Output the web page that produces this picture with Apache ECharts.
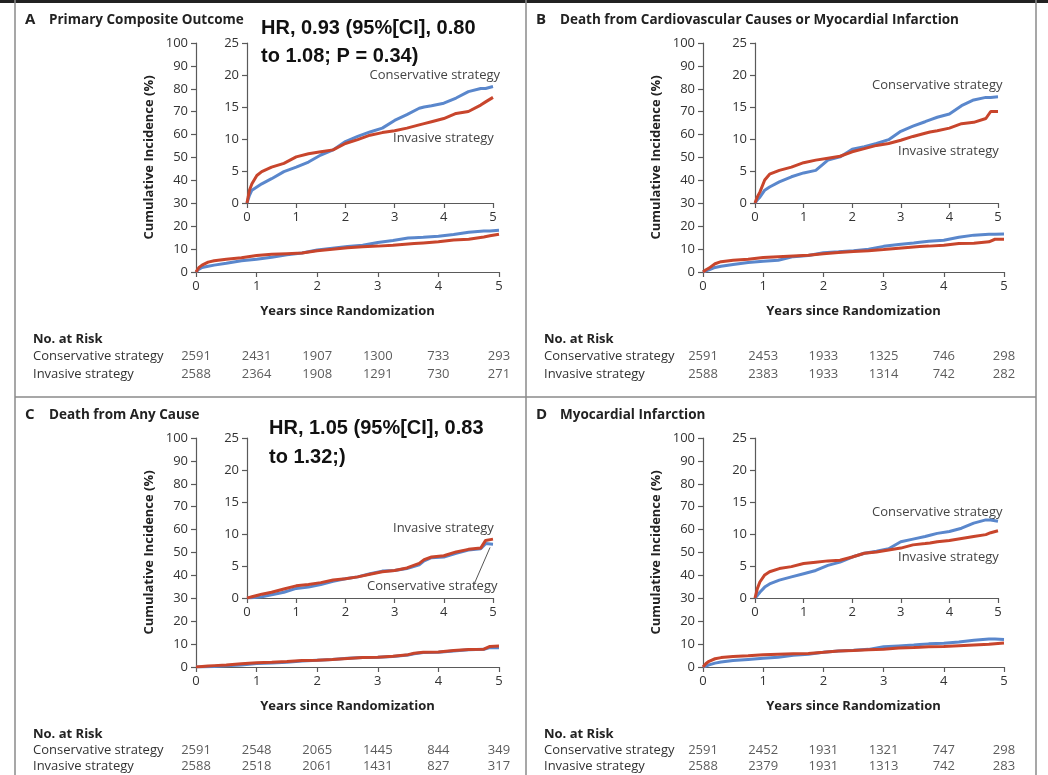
<!DOCTYPE html>
<html>
<head>
<meta charset="utf-8">
<script src="https://cdn.jsdelivr.net/npm/echarts@6/dist/echarts.min.js"></script>
<style>
  html, body { margin: 0; padding: 0; background: #fff; }
  #chart { width: 1048px; height: 775px; }
</style>
</head>
<body>
<div id="chart"></div>
<script>
// Follow-up times (years) at which the cumulative incidence curves are sampled
const years = [0, 0.05, 0.1, 0.2, 0.3, 0.5, 0.75, 1, 1.25, 1.5, 1.75, 2, 2.25, 2.5, 2.75, 3, 3.25, 3.5, 3.6, 3.75, 4, 4.25, 4.5, 4.75, 4.85, 5];

// A: primary composite outcome (%)
const consA = [0, 1.2, 2.0, 2.5, 3.0, 3.8, 4.9, 5.6, 6.4, 7.5, 8.3, 9.6, 10.4, 11.1, 11.7, 12.9, 13.8, 14.8, 15.0, 15.2, 15.6, 16.4, 17.4, 17.9, 17.9, 18.2];
const invA  = [0, 2.0, 3.0, 4.3, 4.9, 5.6, 6.2, 7.2, 7.7, 8.0, 8.3, 9.3, 9.9, 10.6, 11.0, 11.3, 11.7, 12.2, 12.4, 12.7, 13.2, 14.0, 14.3, 15.3, 15.8, 16.5];
// B: death from cardiovascular causes or myocardial infarction (%)
const consB = [0, 0.5, 0.9, 2.0, 2.5, 3.3, 4.1, 4.7, 5.1, 6.7, 7.2, 8.4, 8.8, 9.3, 9.9, 11.2, 12.0, 12.7, 13.0, 13.4, 13.9, 15.2, 16.1, 16.5, 16.5, 16.6];
const invB  = [0, 1.0, 1.7, 3.6, 4.5, 5.1, 5.6, 6.3, 6.7, 7.0, 7.3, 8.0, 8.5, 9.0, 9.3, 9.8, 10.4, 10.9, 11.1, 11.3, 11.7, 12.4, 12.6, 13.2, 14.3, 14.3];
// C: death from any cause (%)
const consC = [0, 0, 0.05, 0.1, 0.2, 0.5, 0.9, 1.5, 1.7, 2.1, 2.6, 3.0, 3.3, 3.8, 4.2, 4.3, 4.6, 5.2, 5.8, 6.3, 6.4, 7.0, 7.5, 7.7, 8.5, 8.4];
const invC  = [0, 0.1, 0.2, 0.4, 0.6, 0.9, 1.4, 1.9, 2.1, 2.4, 2.8, 3.0, 3.3, 3.7, 4.1, 4.3, 4.7, 5.4, 6.0, 6.4, 6.6, 7.2, 7.6, 7.8, 9.0, 9.2];
// D: myocardial infarction (%)
const consD = [0, 0.4, 0.9, 1.7, 2.2, 2.8, 3.3, 3.8, 4.3, 5.1, 5.6, 6.4, 7.0, 7.3, 7.7, 8.8, 9.2, 9.6, 9.8, 10.1, 10.4, 10.9, 11.7, 12.2, 12.2, 12.0];
const invD  = [0, 1.5, 2.5, 3.6, 4.1, 4.6, 4.9, 5.4, 5.6, 5.8, 5.9, 6.4, 7.0, 7.2, 7.5, 7.8, 8.3, 8.5, 8.6, 8.8, 9.0, 9.3, 9.6, 9.9, 10.2, 10.5];

// Numbers at risk at each whole year
const riskYears = [0, 1, 2, 3, 4, 5];
const riskConsA = [2591, 2431, 1907, 1300, 733, 293];
const riskInvA  = [2588, 2364, 1908, 1291, 730, 271];
const riskConsB = [2591, 2453, 1933, 1325, 746, 298];
const riskInvB  = [2588, 2383, 1933, 1314, 742, 282];
const riskConsC = [2591, 2548, 2065, 1445, 844, 349];
const riskInvC  = [2588, 2518, 2061, 1431, 827, 317];
const riskConsD = [2591, 2452, 1931, 1321, 747, 298];
const riskInvD  = [2588, 2379, 1931, 1313, 742, 283];

const rowNames = ['Conservative strategy', 'Invasive strategy'];

const BLUE = '#5a87cc';
const RED = '#c8452c';
const AXIS = '#5a5a5a';
const TXT = '#333';
const FONT = '"Open Sans", "DejaVu Sans", sans-serif';

const panels = [
  { id: 'A', title: 'Primary Composite Outcome', cons: consA, inv: invA, rc: riskConsA, ri: riskInvA, x0: 196, w: 303, ix: 247, iw: 246, y0: 43, rowLabelX: 33 },
  { id: 'B', title: 'Death from Cardiovascular Causes or Myocardial Infarction', cons: consB, inv: invB, rc: riskConsB, ri: riskInvB, x0: 703, w: 301, ix: 755, iw: 243, y0: 43, rowLabelX: 544 },
  { id: 'C', title: 'Death from Any Cause', cons: consC, inv: invC, rc: riskConsC, ri: riskInvC, x0: 196, w: 303, ix: 247, iw: 246, y0: 438, rowLabelX: 33 },
  { id: 'D', title: 'Myocardial Infarction', cons: consD, inv: invD, rc: riskConsD, ri: riskInvD, x0: 703, w: 301, ix: 755, iw: 243, y0: 438, rowLabelX: 544 }
];

const grid = [], xAxis = [], yAxis = [], series = [], graphic = [];

function axisCommon() {
  return {
    axisLine: { show: true, lineStyle: { color: AXIS, width: 1.2 } },
    axisTick: { show: true, length: 5, lineStyle: { color: AXIS, width: 1.2 } },
    splitLine: { show: false },
    axisLabel: { color: TXT, fontFamily: FONT, fontSize: 13, margin: 8 }
  };
}

function curve(t, v) { return t.map((x, i) => [x, v[i]]); }

panels.forEach((p) => {
  const gMain = grid.length;
  grid.push({ left: p.x0, top: p.y0, width: p.w, height: 229 });
  const gInset = grid.length;
  grid.push({ left: p.ix, top: p.y0, width: p.iw, height: 160 });
  const gRisk = grid.length;
  grid.push({ left: p.x0, top: p.y0 + 304, width: p.w, height: 36 });

  // main axes
  xAxis.push(Object.assign(axisCommon(), {
    gridIndex: gMain, type: 'value', min: 0, max: 5, interval: 1,
    name: 'Years since Randomization', nameLocation: 'middle', nameGap: 33,
    nameTextStyle: { color: '#222', fontFamily: FONT, fontSize: 13, fontWeight: 'bold' }
  }));
  yAxis.push(Object.assign(axisCommon(), {
    gridIndex: gMain, type: 'value', min: 0, max: 100, interval: 10,
    name: 'Cumulative Incidence (%)', nameLocation: 'middle', nameGap: 40,
    nameTextStyle: { color: '#222', fontFamily: FONT, fontSize: 13, fontWeight: 'bold' }
  }));
  // inset axes
  xAxis.push(Object.assign(axisCommon(), { gridIndex: gInset, type: 'value', min: 0, max: 5, interval: 1 }));
  yAxis.push(Object.assign(axisCommon(), { gridIndex: gInset, type: 'value', min: 0, max: 25, interval: 5 }));
  // at-risk table axes
  xAxis.push({ gridIndex: gRisk, type: 'value', min: 0, max: 5, show: false });
  yAxis.push({
    gridIndex: gRisk, type: 'category', data: rowNames, inverse: true,
    axisLine: { show: false }, axisTick: { show: false },
    axisLabel: { interval: 0, align: 'left', margin: p.x0 - p.rowLabelX, color: TXT, fontFamily: FONT, fontSize: 13 }
  });

  const lineBase = { type: 'line', showSymbol: false, symbol: 'none', animation: false };
  series.push(Object.assign({}, lineBase, { name: 'Conservative strategy', xAxisIndex: gMain, yAxisIndex: gMain, data: curve(years, p.cons), color: BLUE, lineStyle: { width: 3, color: BLUE } }));
  series.push(Object.assign({}, lineBase, { name: 'Invasive strategy', xAxisIndex: gMain, yAxisIndex: gMain, data: curve(years, p.inv), color: RED, lineStyle: { width: 3, color: RED } }));
  const insetCons = Object.assign({}, lineBase, { name: 'Conservative strategy', xAxisIndex: gInset, yAxisIndex: gInset, data: curve(years, p.cons), color: BLUE, lineStyle: { width: 3, color: BLUE } });
  if (p.id === 'C') {
    // leader line from the label to the end of the conservative curve
    insetCons.markLine = {
      silent: true, symbol: ['none', 'none'], animation: false, label: { show: false },
      lineStyle: { color: '#555', width: 1, type: 'solid' },
      data: [[{ coord: [4.59, 1.7] }, { coord: [4.94, 7.9] }]]
    };
  }
  series.push(insetCons);
  series.push(Object.assign({}, lineBase, { name: 'Invasive strategy', xAxisIndex: gInset, yAxisIndex: gInset, data: curve(years, p.inv), color: RED, lineStyle: { width: 3, color: RED } }));

  // numbers at risk
  const riskData = [];
  riskYears.forEach((t, i) => { riskData.push([t, 0, p.rc[i]]); riskData.push([t, 1, p.ri[i]]); });
  series.push({
    type: 'scatter', xAxisIndex: gRisk, yAxisIndex: gRisk, symbolSize: 1, animation: false,
    itemStyle: { color: 'rgba(0,0,0,0)' }, data: riskData,
    label: { show: true, position: 'inside', formatter: q => String(q.value[2]), color: TXT, fontFamily: FONT, fontSize: 13 }
  });

  // panel heading
  const titleY = p.y0 - 23;
  graphic.push({ type: 'text', x: p.rowLabelX - 8, y: titleY, style: { text: p.id, font: 'bold 15px ' + FONT, fill: '#222', verticalAlign: 'middle' } });
  graphic.push({ type: 'text', x: p.rowLabelX + 16, y: titleY, style: { text: p.title, font: 'bold 13.5px ' + FONT, fill: '#222', verticalAlign: 'middle' } });
  graphic.push({ type: 'text', x: p.rowLabelX, y: p.y0 + 296, style: { text: 'No. at Risk', font: 'bold 13px ' + FONT, fill: '#222', verticalAlign: 'middle' } });
});

// curve labels inside the insets
const lblFont = '13px ' + FONT;
const curveLabels = [
  { text: 'Conservative strategy', x: 500, y: 75, align: 'right' },
  { text: 'Invasive strategy', x: 393, y: 138, align: 'left' },
  { text: 'Conservative strategy', x: 872, y: 85, align: 'left' },
  { text: 'Invasive strategy', x: 898, y: 151, align: 'left' },
  { text: 'Invasive strategy', x: 393, y: 528, align: 'left' },
  { text: 'Conservative strategy', x: 367, y: 586, align: 'left' },
  { text: 'Conservative strategy', x: 872, y: 512, align: 'left' },
  { text: 'Invasive strategy', x: 898, y: 557, align: 'left' }
];
curveLabels.forEach(l => graphic.push({ type: 'text', x: l.x, y: l.y, style: { text: l.text, font: lblFont, fill: '#444', align: l.align, verticalAlign: 'middle' } }));

// hazard ratio notes
const hrFont = 'bold 20px "Liberation Sans", Arial, sans-serif';
graphic.push({ type: 'text', x: 261, y: 28, style: { text: 'HR, 0.93 (95%[CI], 0.80', font: hrFont, fill: '#111', verticalAlign: 'middle' } });
graphic.push({ type: 'text', x: 261, y: 56, style: { text: 'to 1.08; P = 0.34)', font: hrFont, fill: '#111', verticalAlign: 'middle' } });
graphic.push({ type: 'text', x: 269, y: 428, style: { text: 'HR, 1.05 (95%[CI], 0.83', font: hrFont, fill: '#111', verticalAlign: 'middle' } });
graphic.push({ type: 'text', x: 269, y: 457, style: { text: 'to 1.32;)', font: hrFont, fill: '#111', verticalAlign: 'middle' } });

// frame around the four panels
const frame = { stroke: '#8a8a8a', lineWidth: 1.5 };
graphic.push({ type: 'line', shape: { x1: 0, y1: 1.5, x2: 1048, y2: 1.5 }, style: { stroke: '#222', lineWidth: 3 } });
graphic.push({ type: 'line', shape: { x1: 15, y1: 0, x2: 15, y2: 775 }, style: frame });
graphic.push({ type: 'line', shape: { x1: 526, y1: 0, x2: 526, y2: 775 }, style: frame });
graphic.push({ type: 'line', shape: { x1: 1036, y1: 0, x2: 1036, y2: 775 }, style: frame });
graphic.push({ type: 'line', shape: { x1: 15, y1: 397, x2: 1036, y2: 397 }, style: frame });

const chart = echarts.init(document.getElementById('chart'), null, { renderer: 'canvas' });
chart.setOption({
  backgroundColor: '#fff',
  animation: false,
  grid, xAxis, yAxis, series, graphic
});
</script>
</body>
</html>
